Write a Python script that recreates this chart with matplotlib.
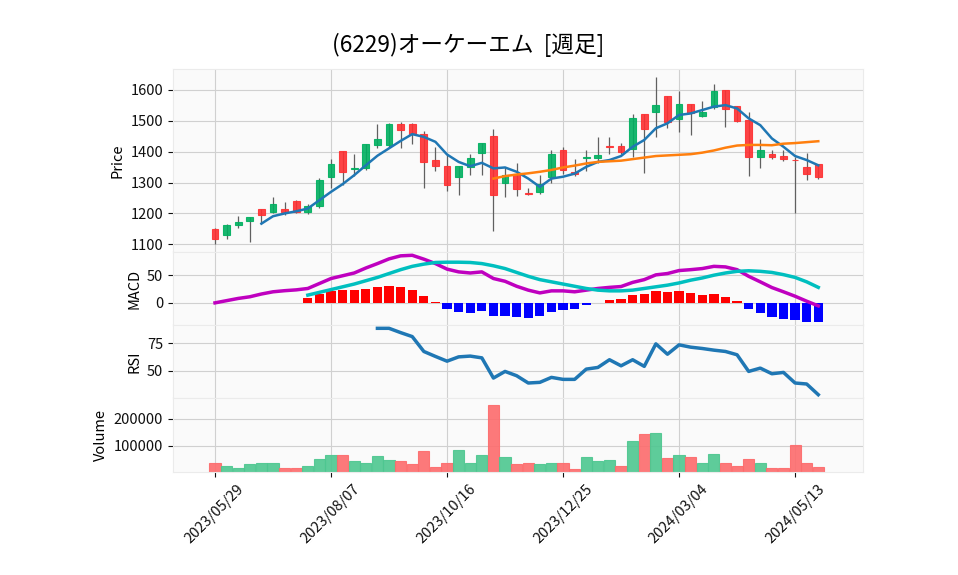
import numpy as np
import pandas as pd
import matplotlib
matplotlib.use('Agg')
import matplotlib.pyplot as plt

plt.rcParams['font.family'] = ['Noto Sans CJK JP', 'DejaVu Sans']

# weekly OHLCV
opens = [1151, 1131, 1163, 1176, 1216, 1205, 1215, 1241, 1205, 1224,
         1319, 1402, 1345, 1348, 1423, 1423, 1490, 1490, 1457, 1373,
         1353, 1319, 1351, 1397, 1451, 1299, 1329, 1266, 1270, 1319,
         1405, 1334, 1379, 1379, 1419, 1418, 1410, 1522, 1530, 1580,
         1507, 1555, 1517, 1546, 1600, 1548, 1503, 1384, 1392, 1386,
         1374, 1349, 1360]
highs = [1153, 1165, 1191, 1188, 1216, 1253, 1237, 1245, 1229, 1316,
         1375, 1402, 1391, 1425, 1490, 1494, 1495, 1493, 1466, 1414,
         1389, 1353, 1391, 1427, 1472, 1351, 1362, 1281, 1324, 1405,
         1414, 1375, 1407, 1448, 1448, 1427, 1521, 1522, 1641, 1580,
         1598, 1555, 1565, 1618, 1600, 1548, 1530, 1440, 1407, 1405,
         1384, 1397, 1360]
lows = [1102, 1118, 1153, 1108, 1167, 1202, 1194, 1200, 1197, 1218,
        1281, 1292, 1321, 1340, 1411, 1414, 1411, 1425, 1281, 1337,
        1272, 1261, 1323, 1326, 1144, 1253, 1256, 1259, 1264, 1299,
        1329, 1320, 1338, 1362, 1394, 1392, 1382, 1332, 1448, 1478,
        1465, 1453, 1511, 1537, 1479, 1495, 1321, 1346, 1375, 1370,
        1200, 1308, 1310]
closes = [1117, 1161, 1171, 1188, 1194, 1232, 1206, 1204, 1223, 1308,
          1360, 1335, 1348, 1425, 1440, 1490, 1469, 1457, 1367, 1354,
          1292, 1353, 1379, 1427, 1260, 1324, 1278, 1262, 1294, 1391,
          1342, 1327, 1382, 1389, 1416, 1400, 1508, 1475, 1551, 1497,
          1555, 1526, 1530, 1597, 1537, 1500, 1384, 1407, 1382, 1378,
          1372, 1329, 1319]
volumes = [39000, 28000, 17000, 31700, 35400, 39000, 17000, 17000, 24400, 53700,
           68300, 68300, 43900, 39000, 64600, 50000, 46300, 31700, 82900, 20700,
           35400, 86600, 35400, 68300, 251200, 61000, 31700, 39000, 31700, 35400,
           39000, 13400, 61000, 46300, 50000, 28000, 119500, 145000, 148800, 57300,
           68300, 61000, 35400, 72000, 39000, 28000, 53700, 35400, 17000, 17000,
           104900, 35400, 20700]

nan = np.nan
ma5 = [nan] * 4 + [1167, 1191, 1200, 1207, 1216, 1243, 1270, 1295, 1324, 1356,
                   1387, 1411, 1435, 1457, 1448, 1432, 1391, 1367, 1353, 1364,
                   1346, 1349, 1335, 1313, 1286, 1313, 1319, 1329, 1351, 1367,
                   1373, 1386, 1416, 1438, 1476, 1492, 1519, 1524, 1535, 1546,
                   1551, 1540, 1508, 1486, 1443, 1416, 1386, 1373, 1356]
ma25 = [nan] * 24 + [1313, 1321, 1326, 1330, 1335, 1341, 1349, 1355, 1362, 1367,
                     1369, 1371, 1376, 1381, 1386, 1388, 1390, 1392, 1397, 1404,
                     1413, 1420, 1422, 1422, 1421, 1426, 1428, 1431, 1434]

macd = [0, 4, 8, 11, 16, 20, 22, 23.5, 26,
        35, 44, 49, 54, 63, 71, 79.5, 85, 86,
        79, 71, 61, 56, 54, 56, 44, 39, 30,
        23, 18, 21.7, 21.7, 20, 23, 26, 28, 29.5,
        37, 42, 50.6, 53, 58.4, 60, 62, 66, 65,
        60, 48, 38, 27.7, 20, 12, 3, -5.4]
signal = [nan] * 8 + [14, 19, 24, 29, 34, 40, 46, 53, 60, 66,
                      70, 73, 73.5, 73.5, 73, 71, 67, 62, 55,
                      48, 42, 38, 34, 30, 26, 23, 21.7, 21.7,
                      23, 26, 29, 32, 36, 41, 45, 50, 54,
                      57, 58, 57, 55, 51, 46, 38, 28]
hist = [nan] * 8 + [9.6, 15.7, 21, 23, 23.5, 24.7, 28, 30, 28, 23,
                    12, 2, -11.4, -17, -18, -14.5, -24, -24, -26,
                    -27.7, -24, -16, -13, -11, -3.6, 0.5, 4.8, 6.6,
                    13.8, 15.7, 21, 19, 21, 17.5, 13.8, 15.7, 10,
                    3, -11, -18, -25, -29, -30.7, -34, -34]
rsi = [nan] * 14 + [88.5, 88.5, 84.6, 81, 67.5, 63, 58.7, 62.6, 63.3, 61.7,
                    43.4, 49.4, 45.5, 38.9, 39.5, 44, 42.2, 42.2, 51.5, 53,
                    60, 54.5, 60, 54, 74.4, 65, 73.5, 71.4, 70.2, 68.7,
                    67.5, 64.5, 49.4, 52.4, 47.3, 48.5, 38.9, 38, 28.3]

tick_labels = ['2023/05/29', '2023/08/07', '2023/10/16',
               '2023/12/25', '2024/03/04', '2024/05/13']
title = '(6229)オーケーエム  [週足]'

df = pd.DataFrame({'Open': opens, 'High': highs, 'Low': lows,
                   'Close': closes, 'Volume': volumes})
df.index = pd.date_range('2023-05-29', periods=len(df), freq='7D')
x = np.arange(len(df))
date_str = list(df.index.strftime('%Y/%m/%d'))
tick_pos = [date_str.index(t) for t in tick_labels]

UP, DOWN = '#00b060', '#fe3032'
VUP, VDOWN = '#4dc790', '#fd6b6c'
FACE, GRID = '#fafafa', '#d0d0d0'
FS = 10.5

fig = plt.figure(figsize=(9.58, 5.75), dpi=100)
left, width = 0.1806, 0.7203
ax_p = fig.add_axes([left, 0.5617, width, 0.3183])
ax_m = fig.add_axes([left, 0.4348, width, 0.1270], sharex=ax_p)
ax_r = fig.add_axes([left, 0.3078, width, 0.1270], sharex=ax_p)
ax_v = fig.add_axes([left, 0.1791, width, 0.1287], sharex=ax_p)

for ax in (ax_p, ax_m, ax_r, ax_v):
    ax.set_facecolor(FACE)
    ax.grid(True, color=GRID, linewidth=0.8)
    ax.set_axisbelow(True)
    for s in ax.spines.values():
        s.set_color('#ebebeb')
    ax.tick_params(axis='both', colors='#101010', labelsize=FS, length=3.5)

# candles
o = df['Open'].values
c = df['Close'].values
up = c >= o
ccol = np.where(up, UP, DOWN)
ax_p.vlines(x, df['Low'], df['High'], color='#606060', linewidth=0.9, zorder=2)
ax_p.bar(x, c - o, bottom=o, width=0.58, color=ccol, edgecolor=ccol,
         linewidth=0.8, alpha=0.9, zorder=3)
ax_p.plot(x, ma5, color='#1f77b4', linewidth=1.8, zorder=4)
ax_p.plot(x, ma25, color='#ff7f0e', linewidth=1.8, zorder=4)
rng = df['High'].max() - df['Low'].min()
ax_p.set_ylim(df['Low'].min() - 0.05 * rng, df['High'].max() + 0.05 * rng)
ax_p.set_ylabel('Price', fontsize=FS)

# MACD
h = np.array(hist)
hcol = np.where(h >= 0, '#ff0000', '#0000ff')
ax_m.bar(x, h, width=0.8, color=hcol, zorder=2)
ax_m.plot(x, macd, color='#bf00bf', linewidth=2.5, zorder=3)
ax_m.plot(x, signal, color='#00bfbf', linewidth=2.5, zorder=3)
ax_m.set_yticks([0, 50])
ax_m.set_ylabel('MACD', fontsize=FS)

# RSI
ax_r.plot(x, rsi, color='#1f77b4', linewidth=2.5)
ax_r.set_yticks([50, 75])
ax_r.set_ylabel('RSI', fontsize=FS)

# volume, colored by close vs previous close
prev = np.r_[o[0], c[:-1]]
vcol = np.where(c >= prev, VUP, VDOWN)
ax_v.bar(x, df['Volume'], width=0.96, color=vcol, edgecolor=vcol,
         linewidth=0.8, alpha=0.9)
ax_v.set_ylim(0.3 * df['Volume'].min(), 1.1 * df['Volume'].max())
ax_v.set_yticks([100000, 200000])
ax_v.set_ylabel('Volume', fontsize=FS)

ax_p.set_xlim(-3.62, 55.86)
ax_v.set_xticks(tick_pos)
ax_v.set_xticklabels(tick_labels, rotation=45, ha='center')
for ax in (ax_p, ax_m, ax_r):
    ax.tick_params(axis='x', which='both', bottom=False, labelbottom=False)

fig.text(0.489, 0.922, title, ha='center', va='center', fontsize=16.3)

fig.savefig('out.png', dpi=100)
